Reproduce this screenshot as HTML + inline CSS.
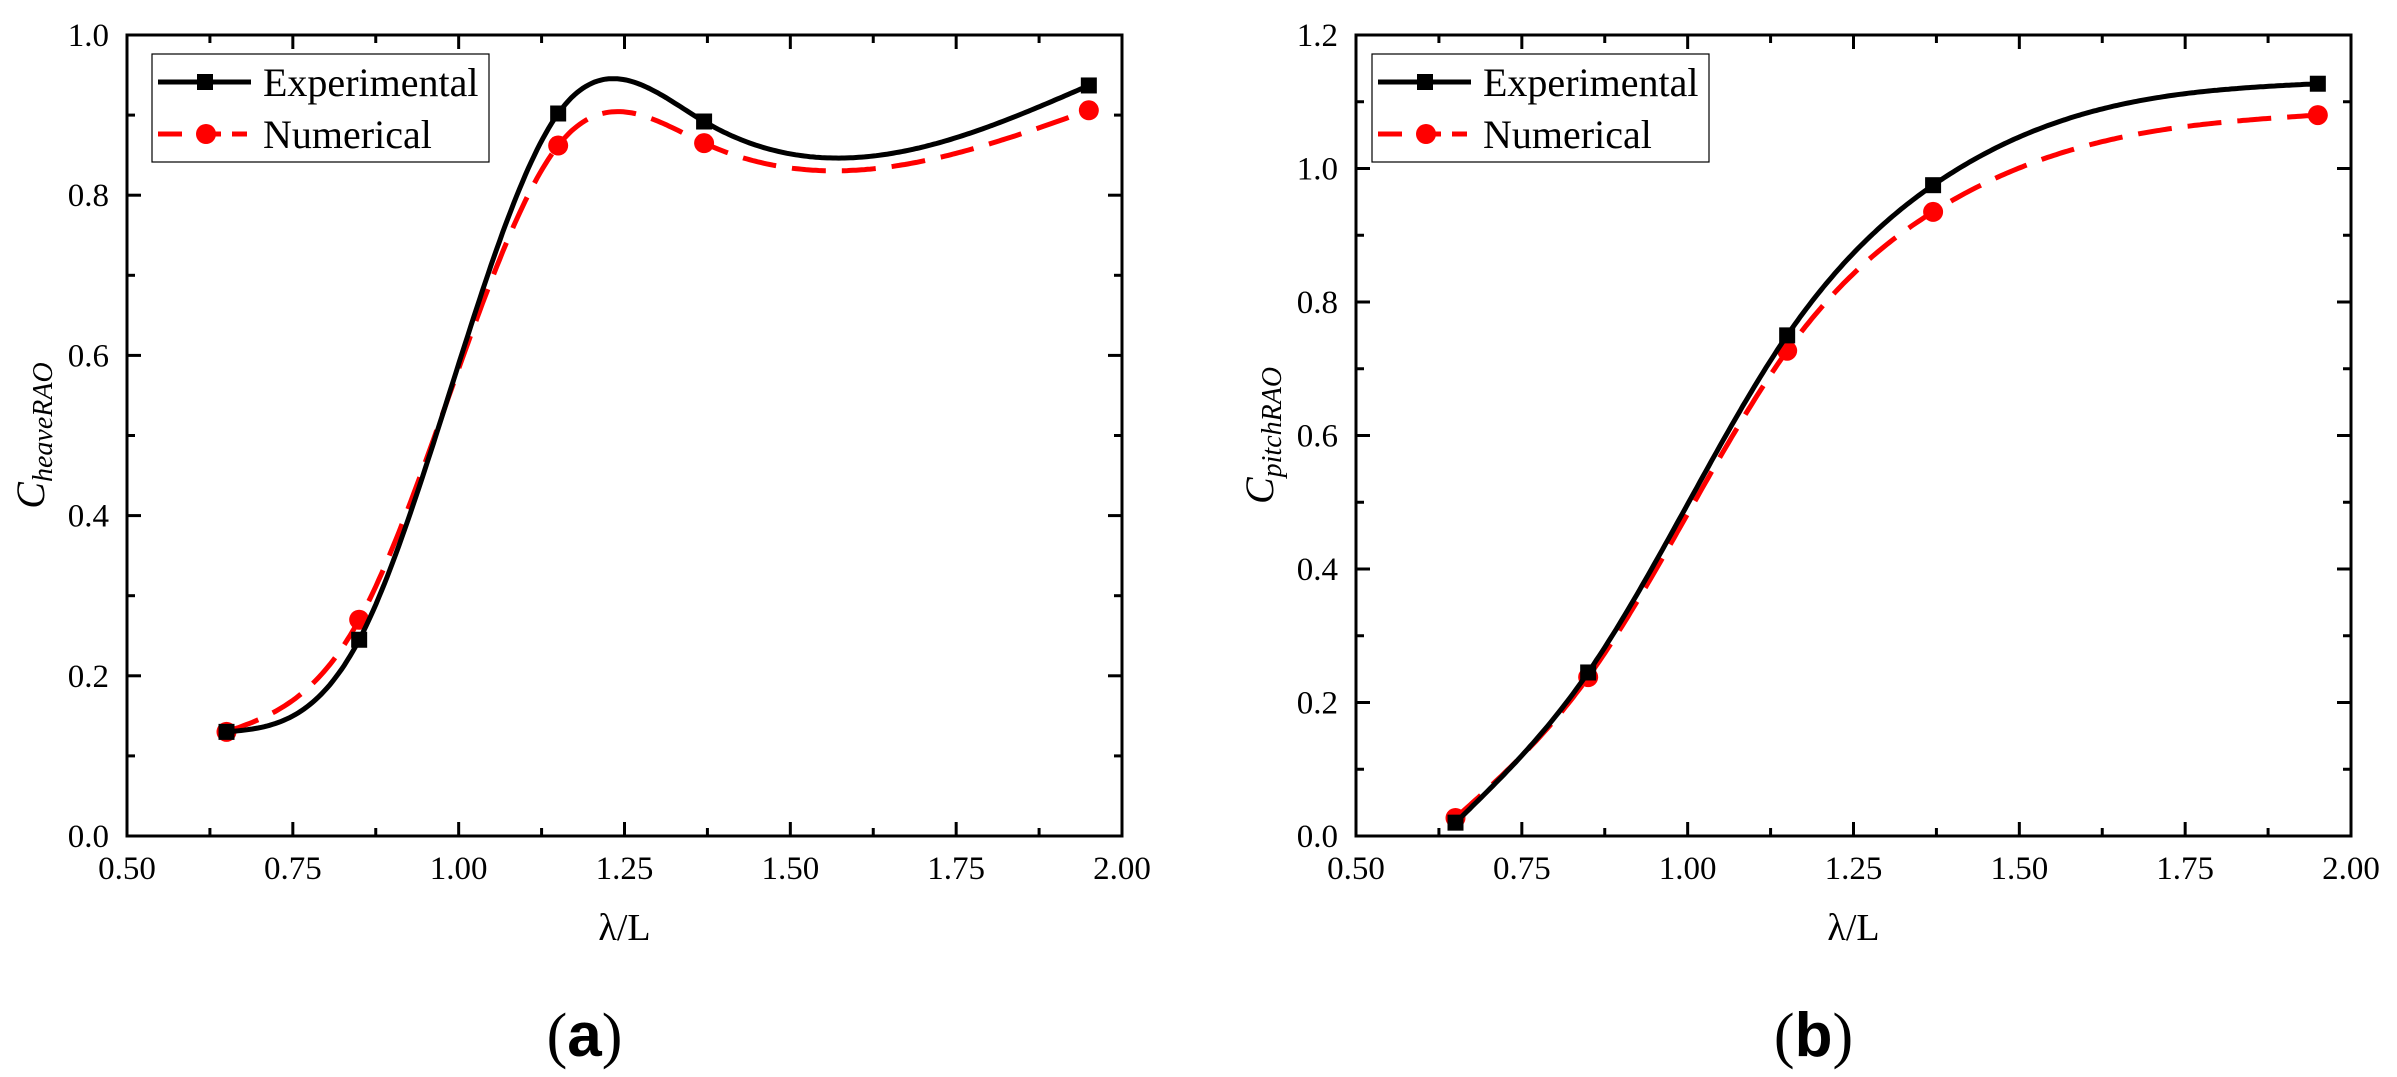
<!DOCTYPE html>
<html><head><meta charset="utf-8"><style>
html,body{margin:0;padding:0;background:#fff;}
svg{display:block;font-family:"Liberation Serif",serif;}
</style></head><body>
<svg id="fig" width="2397" height="1077" viewBox="0 0 2397 1077" xmlns="http://www.w3.org/2000/svg"></svg>
<script>
const xVals = [0.65, 0.85, 1.15, 1.37, 1.95];
const heaveExp = [0.13, 0.245, 0.902, 0.892, 0.937];
const heaveNum = [0.13, 0.27, 0.862, 0.865, 0.906];
const pitchExp = [0.02, 0.245, 0.75, 0.975, 1.127];
const pitchNum = [0.027, 0.238, 0.727, 0.935, 1.08];
const xTicks = [0.5, 0.75, 1.0, 1.25, 1.5, 1.75, 2.0];
const xTickLabels = ["0.50","0.75","1.00","1.25","1.50","1.75","2.00"];
const heaveYTicks = [0, 0.2, 0.4, 0.6, 0.8, 1.0];
const heaveYLabels = ["0.0","0.2","0.4","0.6","0.8","1.0"];
const pitchYTicks = [0, 0.2, 0.4, 0.6, 0.8, 1.0, 1.2];
const pitchYLabels = ["0.0","0.2","0.4","0.6","0.8","1.0","1.2"];

const NS="http://www.w3.org/2000/svg";
const svg=document.getElementById('fig');
function mk(tag, attrs, parent){const e=document.createElementNS(NS,tag);for(const k in attrs)e.setAttribute(k,attrs[k]);(parent||svg).appendChild(e);return e;}

function spline(xs, ys){
  const n=xs.length, h=[], a=[], l=[1], mu=[0], z=[0], c=new Array(n).fill(0), b=[], d=[];
  for(let i=0;i<n-1;i++)h.push(xs[i+1]-xs[i]);
  for(let i=1;i<n-1;i++)a[i]=3/h[i]*(ys[i+1]-ys[i])-3/h[i-1]*(ys[i]-ys[i-1]);
  for(let i=1;i<n-1;i++){l[i]=2*(xs[i+1]-xs[i-1])-h[i-1]*mu[i-1];mu[i]=h[i]/l[i];z[i]=(a[i]-h[i-1]*z[i-1])/l[i];}
  l[n-1]=1;z[n-1]=0;c[n-1]=0;
  for(let j=n-2;j>=0;j--){c[j]=z[j]-mu[j]*c[j+1];b[j]=(ys[j+1]-ys[j])/h[j]-h[j]*(c[j+1]+2*c[j])/3;d[j]=(c[j+1]-c[j])/(3*h[j]);}
  return function(x){let i=0;while(i<n-2&&x>xs[i+1])i++;const dx=x-xs[i];return ys[i]+b[i]*dx+c[i]*dx*dx+d[i]*dx*dx*dx;};
}

function panel(cfg){
  const g=mk('g',{});  
  const L=cfg.left,R=cfg.right,T=35,B=836;
  const sx=v=>L+(v-0.5)/1.5*(R-L);
  const sy=v=>B-v/cfg.ymax*(B-T);
  const tg=mk('g',{stroke:'#000','stroke-width':3},g);  
  for(let i=0;i<xTicks.length;i++){
    const x=sx(xTicks[i]);
    mk('line',{x1:x,x2:x,y1:B,y2:B-14},tg);mk('line',{x1:x,x2:x,y1:T,y2:T+14},tg);
    if(i<xTicks.length-1){const xm=sx(xTicks[i]+0.125);mk('line',{x1:xm,x2:xm,y1:B,y2:B-8},tg);mk('line',{x1:xm,x2:xm,y1:T,y2:T+8},tg);}
    const t=mk('text',{x:x,y:879,'text-anchor':'middle','font-size':33},g);t.textContent=xTickLabels[i];
    
  }
  for(let i=0;i<cfg.yTicks.length;i++){
    const y=sy(cfg.yTicks[i]);
    mk('line',{x1:L,x2:L+14,y1:y,y2:y},tg);mk('line',{x1:R,x2:R-14,y1:y,y2:y},tg);
    if(i<cfg.yTicks.length-1){const ym=sy(cfg.yTicks[i]+0.1);mk('line',{x1:L,x2:L+8,y1:ym,y2:ym},tg);mk('line',{x1:R,x2:R-8,y1:ym,y2:ym},tg);}
    const t=mk('text',{x:L-18,y:y+11,'text-anchor':'end','font-size':33},g);t.textContent=cfg.yLabels[i];
    
  }
  const fr=mk('rect',{x:L,y:T,width:R-L,height:B-T,fill:'none',stroke:'#000','stroke-width':3},g);
  
  const series=[{ys:cfg.num,color:'#ff0000',dash:'34 16',mark:'circle',name:'numerical'},{ys:cfg.exp,color:'#000',dash:'',mark:'square',name:'experimental'}];
  series.forEach(s=>{
    const f=spline(xVals,s.ys);let d='';
    for(let k=0;k<=300;k++){const x=xVals[0]+(xVals[4]-xVals[0])*k/300;d+=(k?'L':'M')+sx(x).toFixed(1)+','+sy(f(x)).toFixed(1);}
    const p=mk('path',{d:d,fill:'none',stroke:s.color,'stroke-width':5,'stroke-dasharray':s.dash},g);
    
    xVals.forEach((xv,i)=>{
      let m;
      if(s.mark==='circle')m=mk('circle',{cx:sx(xv),cy:sy(s.ys[i]),r:10,fill:s.color},g);
      else m=mk('rect',{x:sx(xv)-8,y:sy(s.ys[i])-8,width:16,height:16,fill:s.color},g);
      
    });
  });
  const lg=mk('g',{},g);
  const lx=cfg.legX;
  mk('rect',{x:lx,y:54,width:337,height:108,fill:'#fff',stroke:'#000','stroke-width':1.2},lg);
  mk('line',{x1:lx+6,x2:lx+99,y1:82,y2:82,stroke:'#000','stroke-width':5},lg);
  mk('rect',{x:lx+45,y:74,width:16,height:16,fill:'#000'},lg);
  let t=mk('text',{x:lx+111,y:96,'font-size':40},lg);t.textContent='Experimental';
  
  mk('line',{x1:lx+6,x2:lx+95,y1:134,y2:134,stroke:'#ff0000','stroke-width':5,'stroke-dasharray':'26 11'},lg);
  mk('rect',{x:lx+30,y:128,width:26,height:12,fill:'#fff'},lg);
  mk('circle',{cx:lx+54,cy:134,r:10,fill:'#ff0000'},lg);
  t=mk('text',{x:lx+111,y:148,'font-size':40},lg);t.textContent='Numerical';
  
  const cx=(L+R)/2;
  t=mk('text',{x:cx,y:940,'text-anchor':'middle','font-size':38},g);t.textContent='λ/L';
  
  t=mk('text',{transform:`translate(${cfg.yTitleX},${(T+B)/2}) rotate(-90)`,'text-anchor':'middle','font-size':40},g);
  
  const c1=mk('tspan',{'font-style':'italic'},t);c1.textContent='C';
  const c2=mk('tspan',{'font-style':'italic','font-size':28,dy:8},t);c2.textContent=cfg.sub;
  t=mk('text',{x:cx-40,y:1056,'text-anchor':'middle','font-size':62,'font-family':'Liberation Sans, sans-serif'},g);
  
  const p1=mk('tspan',{'font-family':'Liberation Serif, serif'},t);p1.textContent='(';
  const p2=mk('tspan',{'font-weight':'bold'},t);p2.textContent=cfg.label;
  const p3=mk('tspan',{'font-family':'Liberation Serif, serif'},t);p3.textContent=')';
}
panel({name:'heave-panel',left:127,right:1122,ymax:1.0,yTicks:heaveYTicks,yLabels:heaveYLabels,exp:heaveExp,num:heaveNum,legX:152,yTitleX:44,sub:'heaveRAO',label:'a'});
panel({name:'pitch-panel',left:1356,right:2351,ymax:1.2,yTicks:pitchYTicks,yLabels:pitchYLabels,exp:pitchExp,num:pitchNum,legX:1372,yTitleX:1273,sub:'pitchRAO',label:'b'});
</script>
</body></html>
